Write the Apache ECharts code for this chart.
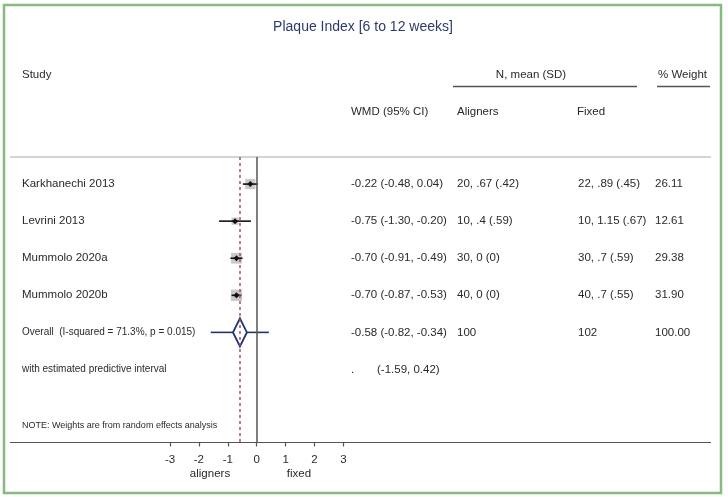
<!DOCTYPE html>
<html>
<head>
<meta charset="utf-8">
<script src="https://cdn.jsdelivr.net/npm/echarts@6/dist/echarts.min.js"></script>
<style>
  html, body { margin: 0; padding: 0; background: #fff; }
  #chart { width: 728px; height: 497px; }
</style>
</head>
<body>
<div id="chart"></div>
<script>
// forest plot: plaque index, aligners vs fixed
var studies = ["Karkhanechi 2013", "Levrini 2013", "Mummolo 2020a", "Mummolo 2020b"];
var wmd = [-0.22, -0.75, -0.70, -0.70];
var ciLow = [-0.48, -1.30, -0.91, -0.87];
var ciHigh = [0.04, -0.20, -0.49, -0.53];
var alignersText = ["20, .67 (.42)", "10, .4 (.59)", "30, 0 (0)", "40, 0 (0)"];
var fixedText = ["22, .89 (.45)", "10, 1.15 (.67)", "30, .7 (.59)", "40, .7 (.55)"];
var weights = [26.11, 12.61, 29.38, 31.90];

var overallLabel = "Overall  (I-squared = 71.3%, p = 0.015)";
var overallWmd = -0.58;
var overallCi = [-0.82, -0.34];
var predictive = [-1.59, 0.42];
var overallN = [100, 102];
var overallWeight = 100.00;

var xTicks = [-3, -2, -1, 0, 1, 2, 3];

var FONT = "'Liberation Sans', Arial, sans-serif";
var TXT = "#2a2a2a";
var NAVY = "#23307a";

function f2(v) { return v.toFixed(2); }

var studyData = studies.map(function (s, i) {
  return [wmd[i], i, ciLow[i], ciHigh[i], weights[i]];
});

// table rows: [x(unused), row]
var tableRows = studies.map(function (s, i) { return [0, i]; });
tableRows.push([0, 4], [0, 5], [0, 6.5]);

function textEl(x, y, str, size, color) {
  return {
    type: "text", x: x, y: y,
    style: { text: str, fill: color || TXT, font: size + "px " + FONT, verticalAlign: "middle", align: "left" }
  };
}

var chart = echarts.init(document.getElementById("chart"), null, { renderer: "canvas" });

var option = {
  animation: false,
  grid: { left: 170, right: 384.6, top: 157, bottom: 54.5 },
  xAxis: {
    type: "value", min: xTicks[0], max: xTicks[xTicks.length - 1], interval: 1,
    axisLine: { show: false, onZero: false },
    axisTick: { show: true, length: 4, lineStyle: { color: "#555", width: 1.2 } },
    axisLabel: { margin: 11, color: TXT, fontSize: 11.5, fontFamily: FONT },
    splitLine: { show: false }
  },
  yAxis: { type: "value", min: -0.73, max: 6.97, inverse: true, show: false },
  series: [
    {
      type: "custom",
      name: "studies",
      clip: false,
      data: studyData,
      encode: { x: [0, 2, 3], y: 1 },
      renderItem: function (params, api) {
        var c = api.coord([api.value(0), api.value(1)]);
        var lo = api.coord([api.value(2), api.value(1)]);
        var hi = api.coord([api.value(3), api.value(1)]);
        var side = 2 * Math.sqrt(api.value(4));
        return {
          type: "group",
          children: [
            { type: "rect", shape: { x: c[0] - side / 2, y: c[1] - side / 2, width: side, height: side },
              style: { fill: "#c9c9c9" } },
            { type: "line", shape: { x1: lo[0], y1: lo[1], x2: hi[0], y2: hi[1] },
              style: { stroke: "#111", lineWidth: 1.6 } },
            { type: "polygon", shape: { points: [[c[0], c[1] - 3], [c[0] + 3, c[1]], [c[0], c[1] + 3], [c[0] - 3, c[1]]] },
              style: { fill: "#111" } }
          ]
        };
      },
      markLine: {
        silent: true,
        symbol: "none",
        label: { show: false },
        data: [
          { xAxis: 0, lineStyle: { color: "#555", width: 1.5, type: "solid" } },
          { xAxis: overallWmd, lineStyle: { color: "#a3545f", width: 1.5, type: [3, 3] } }
        ]
      },
      z: 3
    },
    {
      type: "custom",
      name: "overall",
      clip: false,
      data: [[overallWmd, 4, overallCi[0], overallCi[1], predictive[0], predictive[1]]],
      encode: { x: [0, 2, 3, 4, 5], y: 1 },
      renderItem: function (params, api) {
        var row = api.value(1);
        var c = api.coord([api.value(0), row]);
        var lo = api.coord([api.value(2), row]);
        var hi = api.coord([api.value(3), row]);
        var plo = api.coord([api.value(4), row]);
        var phi = api.coord([api.value(5), row]);
        var h = 14;
        var s = { stroke: NAVY, lineWidth: 1.6, fill: null };
        return {
          type: "group",
          children: [
            { type: "line", shape: { x1: plo[0], y1: c[1], x2: lo[0], y2: c[1] }, style: s },
            { type: "line", shape: { x1: hi[0], y1: c[1], x2: phi[0], y2: c[1] }, style: s },
            { type: "polygon", shape: { points: [[lo[0], c[1]], [c[0], c[1] - h], [hi[0], c[1]], [c[0], c[1] + h]] },
              style: { stroke: NAVY, lineWidth: 1.8, fill: "rgba(0,0,0,0)" } }
          ]
        };
      },
      z: 4
    },
    {
      type: "custom",
      name: "table",
      clip: false,
      silent: true,
      data: tableRows,
      renderItem: function (params, api) {
        var row = api.value(1);
        var y = api.coord([0, row])[1];
        var i = params.dataIndex;
        if (i < studies.length) {
          return { type: "group", children: [
            textEl(22, y, studies[i], 11.5),
            textEl(351, y, f2(wmd[i]) + " (" + f2(ciLow[i]) + ", " + f2(ciHigh[i]) + ")", 11.5),
            textEl(457, y, alignersText[i], 11.5),
            textEl(578, y, fixedText[i], 11.5),
            textEl(655, y, f2(weights[i]), 11.5)
          ] };
        }
        if (row === 4) {
          return { type: "group", children: [
            textEl(22, y, overallLabel, 10),
            textEl(351, y, f2(overallWmd) + " (" + f2(overallCi[0]) + ", " + f2(overallCi[1]) + ")", 11.5),
            textEl(457, y, String(overallN[0]), 11.5),
            textEl(578, y, String(overallN[1]), 11.5),
            textEl(655, y, f2(overallWeight), 11.5)
          ] };
        }
        if (row === 5) {
          return { type: "group", children: [
            textEl(22, y, "with estimated predictive interval", 10),
            textEl(351, y, ".", 11.5),
            textEl(377, y, "(" + f2(predictive[0]) + ", " + f2(predictive[1]) + ")", 11.5)
          ] };
        }
        return textEl(22, y, "NOTE: Weights are from random effects analysis", 9);
      },
      z: 5
    }
  ],
  graphic: [
    { type: "rect", shape: { x: 4, y: 5, width: 717, height: 488 },
      style: { fill: null, stroke: "#86bb80", lineWidth: 2.5 } },
    { type: "text", x: 363, y: 27,
      style: { text: "Plaque Index [6 to 12 weeks]", fill: "#2c3a6b", font: "14px " + FONT, align: "center", verticalAlign: "middle" } },
    textEl(22, 75, "Study", 11.5),
    { type: "text", x: 531, y: 75,
      style: { text: "N, mean (SD)", fill: TXT, font: "11.5px " + FONT, align: "center", verticalAlign: "middle" } },
    textEl(658, 75, "% Weight", 11.5),
    { type: "line", shape: { x1: 453, y1: 86.5, x2: 637, y2: 86.5 }, style: { stroke: "#555", lineWidth: 1.5 } },
    { type: "line", shape: { x1: 657, y1: 86.5, x2: 710, y2: 86.5 }, style: { stroke: "#555", lineWidth: 1.5 } },
    textEl(351, 112, "WMD (95% CI)", 11.5),
    textEl(457, 112, "Aligners", 11.5),
    textEl(577, 112, "Fixed", 11.5),
    { type: "line", shape: { x1: 10, y1: 157, x2: 711, y2: 157 }, style: { stroke: "#d4d4d4", lineWidth: 2 } },
    { type: "line", shape: { x1: 10, y1: 442.5, x2: 711, y2: 442.5 }, style: { stroke: "#555", lineWidth: 1.2 } },
    { type: "text", x: 210, y: 474,
      style: { text: "aligners", fill: TXT, font: "11.5px " + FONT, align: "center", verticalAlign: "middle" } },
    { type: "text", x: 299, y: 474,
      style: { text: "fixed", fill: TXT, font: "11.5px " + FONT, align: "center", verticalAlign: "middle" } }
  ]
};

chart.setOption(option);
window.addEventListener("resize", function () { chart.resize(); });
</script>
</body>
</html>
